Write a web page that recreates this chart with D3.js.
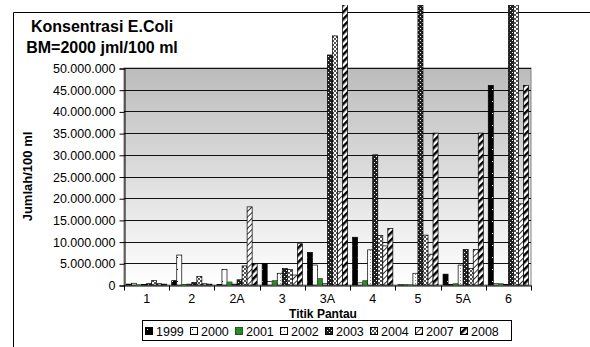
<!DOCTYPE html>
<html>
<head>
<meta charset="utf-8">
<script src="https://cdn.jsdelivr.net/npm/d3@7"></script>
<style>
  html, body { margin: 0; padding: 0; background: #fff; }
  svg { display: block; font-family: 'Liberation Sans', Arial, sans-serif; }
</style>
</head>
<body>
<svg id="chart" width="590" height="347"></svg>
<script>
// data (values in millions per 100 ml)
const categories = ['1', '2', '2A', '3', '3A', '4', '5', '5A', '6']
const years = ['1999', '2000', '2001', '2002', '2003', '2004', '2007', '2008']

const v1999 = [0.2, 1.0, 0.1, 4.9, 7.5, 11.0, 0.05, 2.5, 46]
const v2000 = [0.4, 6.9, 3.6, 0.8, 4.6, 0.5, 0.05, 0.1, 0.3]
const v2001 = [0.05, 0.1, 0.7, 1.0, 1.5, 1.0, 0.05, 0.3, 0.3]
const v2002 = [0.1, 0.2, 0.2, 2.7, 0.3, 8.1, 2.7, 4.6, 0.1]
const v2003 = [0.3, 0.6, 1.2, 3.8, 53, 30, 70, 8.2, 70]
const v2004 = [1.0, 2.0, 4.4, 3.6, 57.4, 11.4, 11.5, 3.8, 70]
const v2007 = [0.3, 0.3, 18, 2.3, 21.5, 9.0, 7.1, 8.2, 18.7]
const v2008 = [0.2, 0.2, 4.9, 9.5, 70, 13, 35, 35, 46]

const yTicks = [0, 5, 10, 15, 20, 25, 30, 35, 40, 45, 50].map(d => d * 1e6)

const series = [v1999, v2000, v2001, v2002, v2003, v2004, v2007, v2008]
const rows = []
categories.forEach((c, i) => {
  years.forEach((yr, j) => rows.push({ cat: c, year: yr, value: series[j][i] * 1e6 }))
})

const svg = d3.select('#chart')
const W = 590, H = 347
const plot = { left: 124, right: 531, top: 68, bottom: 285 }

const defs = svg.append('defs')

// plot background gradient
const grad = defs.append('linearGradient').attr('id', 'bg').attr('x1', 0).attr('y1', 0).attr('x2', 0).attr('y2', 1)
grad.append('stop').attr('offset', '0%').attr('stop-color', '#bcbcbc')
grad.append('stop').attr('offset', '100%').attr('stop-color', '#ffffff')

// fill patterns, one per year
function pattern(id, w, h, bg, draw, transform) {
  const p = defs.append('pattern').attr('id', id)
    .attr('patternUnits', 'userSpaceOnUse').attr('width', w).attr('height', h)
  if (transform) p.attr('patternTransform', transform)
  p.append('rect').attr('width', w).attr('height', h).attr('fill', bg)
  draw(p)
}
pattern('p1999', 5, 12, '#000', p => p.append('rect').attr('x', 2).attr('y', 5).attr('width', 1).attr('height', 1).attr('fill', '#fff'))
pattern('p2000', 5, 12, '#fff', p => p.append('rect').attr('x', 2).attr('y', 5).attr('width', 1).attr('height', 1).attr('fill', '#000'))
pattern('p2001', 4, 4, '#2e8b2e', p => p.append('rect').attr('x', 1).attr('y', 1).attr('width', 1).attr('height', 1).attr('fill', '#1d5e1d'))
pattern('p2002', 3, 3, '#fff', p => p.append('rect').attr('x', 1).attr('y', 1).attr('width', 1).attr('height', 1).attr('fill', '#888'))
pattern('p2003', 4, 4, '#222', p => {
  p.append('rect').attr('x', 0).attr('y', 0).attr('width', 1).attr('height', 1).attr('fill', '#fff')
  p.append('rect').attr('x', 2).attr('y', 2).attr('width', 1).attr('height', 1).attr('fill', '#fff')
})
pattern('p2004', 4, 4, '#fff', p => {
  p.append('rect').attr('x', 0).attr('y', 0).attr('width', 2).attr('height', 2).attr('fill', '#555')
  p.append('rect').attr('x', 2).attr('y', 2).attr('width', 2).attr('height', 2).attr('fill', '#555')
})
pattern('p2007', 4, 4, '#fff', p => p.append('rect').attr('width', 1).attr('height', 4).attr('fill', '#333'), 'rotate(45)')
pattern('p2008', 5, 5, '#fff', p => p.append('rect').attr('width', 2.5).attr('height', 5).attr('fill', '#000'), 'rotate(45)')

defs.append('clipPath').attr('id', 'clip')
  .append('rect').attr('x', 0).attr('y', 5).attr('width', W).attr('height', H - 5)

// outer chart frame (runs past the right and bottom edges)
svg.append('path').attr('d', `M13.5,${H} V12.5 H${W}`)
  .attr('fill', 'none').attr('stroke', '#000').attr('stroke-width', 1)

// scales
const x0 = d3.scaleBand().domain(categories).range([plot.left, plot.right]).padding(0)
const bw = x0.bandwidth()
const x1 = d3.scaleBand().domain(years).range([bw * 0.055, bw * 0.945]).padding(0)
const y = d3.scaleLinear().domain([0, 50e6]).range([plot.bottom, plot.top])

// plot area
svg.append('rect')
  .attr('x', plot.left).attr('y', plot.top)
  .attr('width', plot.right - plot.left).attr('height', plot.bottom - plot.top)
  .attr('fill', 'url(#bg)').attr('stroke', '#808080').attr('stroke-width', 1)

svg.append('g').attr('class', 'grid')
  .selectAll('line').data(yTicks.slice(1)).join('line')
  .attr('x1', plot.left).attr('x2', plot.right)
  .attr('y1', d => Math.round(y(d)) + 0.5).attr('y2', d => Math.round(y(d)) + 0.5)
  .attr('stroke', '#111').attr('stroke-width', 1)

// y axis
const fmt = v => d3.format(',')(v).replace(/,/g, '.')
const yAxis = svg.append('g')
  .attr('transform', `translate(${plot.left + 0.5},0.5)`)
  .call(d3.axisLeft(y).tickValues(yTicks).tickFormat(fmt).tickSize(5).tickPadding(4))
yAxis.select('.domain').attr('stroke', '#000')
yAxis.selectAll('.tick line').attr('stroke', '#000')
yAxis.selectAll('text').attr('font-size', 12.5).attr('fill', '#000')
  .attr('font-family', "'Liberation Sans', Arial, sans-serif")

// x axis
const xAxis = svg.append('g')
  .attr('transform', `translate(0,${plot.bottom + 0.5})`)
  .call(d3.axisBottom(x0).tickSize(0).tickPadding(9))
xAxis.select('.domain').attr('stroke', '#000')
xAxis.selectAll('text').attr('font-size', 12.5).attr('fill', '#000')
  .attr('font-family', "'Liberation Sans', Arial, sans-serif")
xAxis.selectAll('.cat-tick')
  .data(categories.concat(['end'])).join('line')
  .attr('class', 'cat-tick')
  .attr('x1', (d, i) => Math.round(plot.left + i * bw) + 0.5)
  .attr('x2', (d, i) => Math.round(plot.left + i * bw) + 0.5)
  .attr('y1', 0).attr('y2', 5)
  .attr('stroke', '#000')

// bars
svg.append('g').attr('clip-path', 'url(#clip)')
  .selectAll('rect').data(rows).join('rect')
  .attr('x', d => x0(d.cat) + x1(d.year))
  .attr('width', x1.bandwidth())
  .attr('y', d => y(d.value))
  .attr('height', d => y(0) - y(d.value))
  .attr('fill', d => `url(#p${d.year})`)
  .attr('stroke', d => d.year === '2001' ? '#1d5e1d' : '#000')
  .attr('stroke-width', 0.7)

// titles
const title = svg.append('text')
  .attr('x', 102).attr('text-anchor', 'middle')
  .attr('font-size', 16).attr('font-weight', 'bold')
title.append('tspan').attr('x', 102).attr('y', 32).text('Konsentrasi E.Coli')
title.append('tspan').attr('x', 102).attr('y', 52.5).text('BM=2000 jml/100 ml')

svg.append('text')
  .attr('transform', `translate(32,${(plot.top + plot.bottom) / 2}) rotate(-90)`)
  .attr('text-anchor', 'middle')
  .attr('font-size', 13).attr('font-weight', 'bold')
  .text('Jumlah/100 ml')

svg.append('text')
  .attr('x', 323).attr('y', 318)
  .attr('text-anchor', 'middle')
  .attr('font-size', 12).attr('font-weight', 'bold')
  .text('Titik Pantau')

// legend
const legend = svg.append('g')
legend.append('rect')
  .attr('x', 142.5).attr('y', 320.5).attr('width', 369).attr('height', 20)
  .attr('fill', '#fff').attr('stroke', '#000')
const lx = d3.scalePoint().domain(years).range([145, 460])
const item = legend.selectAll('g.item').data(years).join('g')
  .attr('class', 'item')
  .attr('transform', d => `translate(${lx(d)},0)`)
item.append('rect')
  .attr('x', 0.5).attr('y', 327.5).attr('width', 7).attr('height', 7)
  .attr('fill', d => `url(#p${d})`)
  .attr('stroke', d => d === '2001' ? '#1d5e1d' : '#000')
item.append('text')
  .attr('x', 11).attr('y', 335.5)
  .attr('font-size', 12.5)
  .text(d => d)
</script>
</body>
</html>
